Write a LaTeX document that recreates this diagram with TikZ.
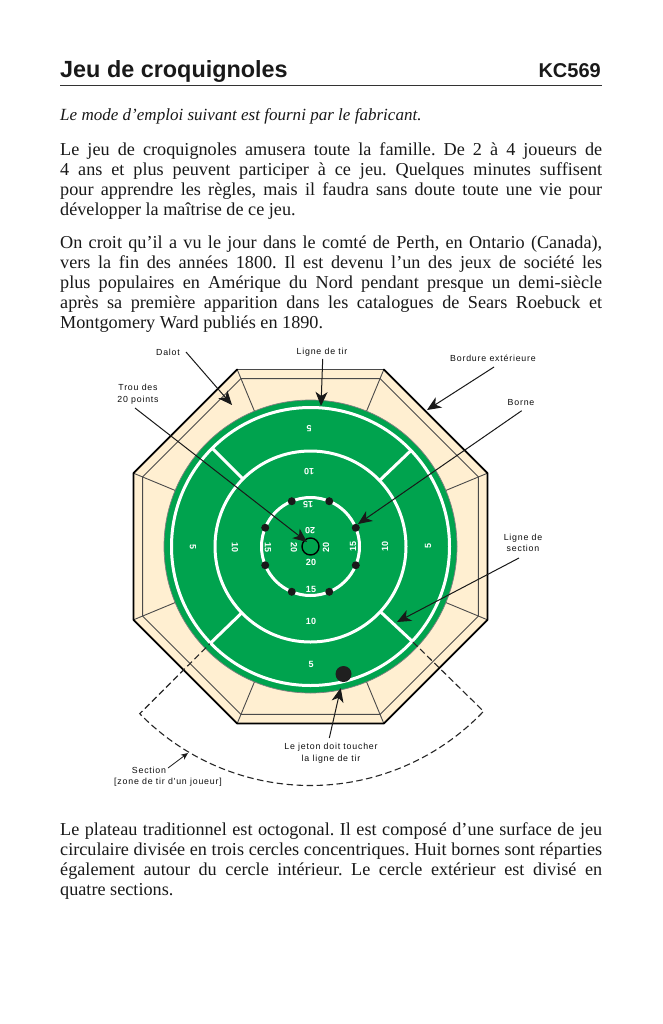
\documentclass[tikz,border=0pt]{standalone}
\usepackage{fontspec}
\setmainfont{Liberation Serif}
\newfontfamily\arialb[Ligatures=TeX]{Liberation Sans}
\newfontfamily\lab[LetterSpace=9]{Liberation Sans}
\usetikzlibrary{arrows.meta}
\definecolor{boardgreen}{HTML}{00A34E}
\definecolor{cream}{HTML}{FFEFD1}
\definecolor{edgegrey}{HTML}{4A4A4A}
\frenchspacing
\newcommand{\tightwords}{\spaceskip=0.25em plus 0.4em minus 0.2em\relax}
\tikzset{
 x=1pt,y=-1pt,
 para/.style={anchor=north west,inner sep=0,text width=542pt,align=justify,text=black!90,font=\fontsize{18.2}{20}\selectfont},
 lbl/.style={inner sep=0,align=center,text=black!95,font=\lab\fontsize{8.8}{11.5}\selectfont},
 num/.style={inner sep=0,text=white,font=\arialb\bfseries\fontsize{9}{9}\selectfont},
 ring/.style={draw=white,line width=3pt},
 arrowline/.style={draw=black!90,line width=1pt,-{Stealth[length=14pt,width=12pt,inset=4pt]}},
 peg/.style={circle,fill=black!90,inner sep=0,minimum size=8pt},
}
\begin{document}
\begin{tikzpicture}
\useasboundingbox (0,0) rectangle (663,1024);
\fill[white] (0,0) rectangle (663,1024);
% heading
\node[anchor=base west,inner sep=0,text=black!90,font=\arialb\bfseries\fontsize{23.4}{24}\selectfont] (title) at (60,77.5) {Jeu de croquignoles};
\node[anchor=base east,inner sep=0,text=black!90,font=\arialb\bfseries\fontsize{20}{24}\selectfont] (code) at (601,77.5) {KC569};
\coordinate (ruleL) at (60,85.3); \coordinate (ruleR) at (602,85.3);
\draw[line width=0.8pt,black!80] (ruleL) -- (ruleR);
% text
\node[para,font=\itshape\fontsize{17.05}{20}\selectfont] (intro) at (60,108.4) {Le mode d’emploi suivant est fourni par le fabricant.};
\node[para] (p1) at (60,142) {\tightwords Le jeu de croquignoles amusera toute la famille. De 2 à 4 joueurs de\linebreak
4 ans et plus peuvent participer à ce jeu. Quelques minutes suffisent\linebreak
pour apprendre les règles, mais il faudra sans doute toute une vie pour\linebreak
développer la maîtrise de ce jeu.};
\node[para] (p2) at (60,235.4) {\tightwords On croit qu’il a vu le jour dans le comté de Perth, en Ontario (Canada),\linebreak
vers la fin des années 1800. Il est devenu l’un des jeux de société les\linebreak
plus populaires en Amérique du Nord pendant presque un demi-siècle\linebreak
après sa première apparition dans les catalogues de Sears Roebuck et\linebreak
Montgomery Ward publiés en 1890.};
\node[para] (p3) at (60,822.6) {\tightwords Le plateau traditionnel est octogonal. Il est composé d’une surface de jeu\linebreak
circulaire divisée en trois cercles concentriques. Huit bornes sont réparties\linebreak
également autour du cercle intérieur. Le cercle extérieur est divisé en\linebreak
quatre sections.};
% board
\begin{scope}[shift={(310.5,546.5)}]
 \fill[cream] (22.5:191.6) -- (67.5:191.6) -- (112.5:191.6) -- (157.5:191.6) -- (202.5:191.6) -- (247.5:191.6) -- (292.5:191.6) -- (337.5:191.6) -- cycle;
 \foreach \a in {22.5,67.5,...,337.5} \draw[edgegrey,line width=0.9pt] (\a:191.6) -- (\a:146);
 \draw[edgegrey,line width=1pt] (22.5:181.8) -- (67.5:181.8) -- (112.5:181.8) -- (157.5:181.8) -- (202.5:181.8) -- (247.5:181.8) -- (292.5:181.8) -- (337.5:181.8) -- cycle;
 \draw[edgegrey,line width=1.1pt] (247.5:191.6) -- (292.5:191.6);
 \draw[black,line width=1.8pt,line cap=round,line join=round] (292.5:191.6) -- (337.5:191.6) -- (22.5:191.6) -- (67.5:191.6) -- (112.5:191.6) -- (157.5:191.6) -- (202.5:191.6) -- (247.5:191.6);
 \draw[fill=boardgreen,draw=edgegrey!70,line width=0.7pt] (0,0) circle (146.5);
 \draw[ring] (0,0) circle (139);
 \draw[ring] (0,0) circle (95.5);
 \draw[ring] (0,0) circle (49);
 \foreach \a in {43,136,225,316.3} \draw[ring] (\a:95.5) -- (\a:139);
 \draw[black!85,line width=1.1pt,dash pattern=on 6.5pt off 3.5pt] (43:140) -- (43.6:239) arc (43.6:135.6:239) -- (136:140);
 \foreach \a [count=\i] in {22.5,67.5,...,337.5} \node[peg] (peg\i) at (\a:49) {};
 \draw[black,line width=1.4pt] (0,0) circle (8.5);
 \node[circle,fill=black!88,inner sep=0,minimum size=16pt] (jeton) at (33,127.5) {};
\end{scope}
% numbers
\node[num,rotate=180] (t5) at (309,429) {5};
\node[num,rotate=180] (t10) at (309,472) {10};
\node[num,rotate=180] (t15) at (308,505) {15};
\node[num,rotate=180] (t20) at (310,531) {20};
\node[num] (b20) at (311,562) {20};
\node[num] (b15) at (311,589) {15};
\node[num] (b10) at (311,621) {10};
\node[num] (b5) at (311,664) {5};
\node[num,rotate=-90] (l5) at (193,547) {5};
\node[num,rotate=-90] (l10) at (235,547) {10};
\node[num,rotate=-90] (l15) at (268,547) {15};
\node[num,rotate=-90] (l20) at (294,547) {20};
\node[num,rotate=90] (r20) at (326,547) {20};
\node[num,rotate=90] (r15) at (353,546) {15};
\node[num,rotate=90] (r10) at (385,546) {10};
\node[num,rotate=90] (r5) at (428,546) {5};
% labels
\node[lbl] (dalot) at (168,352) {Dalot};
\node[lbl] (tir) at (322,352) {Ligne de tir};
\node[lbl] (bord) at (493,358) {Bordure extérieure};
\node[lbl] (borne) at (521,403) {Borne};
\node[lbl] (trou) at (138,394) {Trou des\\20 points};
\node[lbl] (lsec) at (523,543) {Ligne de\\section};
\node[lbl] (jet) at (331,753) {Le jeton doit toucher\\la ligne de tir};
\node[lbl] (sec) at (149,770) {Section};
\node[lbl] (zone) at (168,782) {[zone de tir d'un joueur]};
% arrows
\coordinate (a1) at (186,352); \coordinate (a1t) at (232,405);
\coordinate (a2) at (322.7,359); \coordinate (a2t) at (321,406);
\coordinate (a3) at (494,367); \coordinate (a3t) at (427,410);
\coordinate (a4) at (521.7,410.7); \coordinate (a4t) at (358,524);
\coordinate (a5) at (135,408); \coordinate (a5t) at (307,542);
\coordinate (a6) at (519,558); \coordinate (a6t) at (397,622);
\coordinate (a7) at (329.3,738); \coordinate (a7t) at (340.7,688);
\coordinate (a8) at (168,768); \coordinate (a8t) at (188,753);
\draw[arrowline] (a1) -- (a1t);
\draw[arrowline] (a2) -- (a2t);
\draw[arrowline] (a3) -- (a3t);
\draw[arrowline] (a4) -- (a4t);
\draw[arrowline] (a5) -- (a5t);
\draw[arrowline] (a6) -- (a6t);
\draw[arrowline] (a7) -- (a7t);
\draw[draw=black!90,line width=0.8pt,-{Stealth[length=7pt,width=6pt,inset=2pt]}] (a8) -- (a8t);
\end{tikzpicture}
\end{document}
